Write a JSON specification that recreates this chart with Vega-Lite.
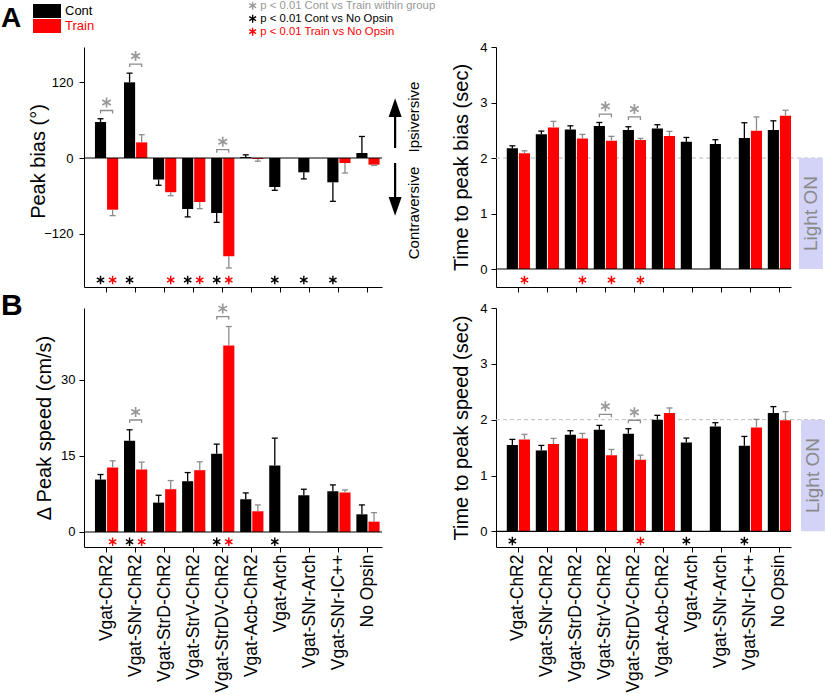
{
 "$schema": "https://vega.github.io/schema/vega-lite/v6.json",
 "padding": {"left": 1, "top": 0, "right": 0, "bottom": 0},
 "background": "white",
 "config": {
  "font": "Liberation Sans",
  "view": {"stroke": null},
  "axis": {"domainColor": "black", "tickColor": "black", "labelColor": "black", "titleColor": "black", "grid": false, "labelFontSize": 13, "titleFontSize": 20, "titleFontWeight": "normal", "tickSize": 5, "domainWidth": 1, "tickWidth": 1, "labelPadding": 4},
  "title": {"color": "black"}
 },
 "datasets": {
  "ab": [
   {"g": "Vgat-ChR2", "c": "Cont", "v": 56.8, "e": 62},
   {"g": "Vgat-ChR2", "c": "Train", "v": -81.6, "e": -91},
   {"g": "Vgat-SNr-ChR2", "c": "Cont", "v": 119.5, "e": 134},
   {"g": "Vgat-SNr-ChR2", "c": "Train", "v": 24.7, "e": 36.8},
   {"g": "Vgat-StrD-ChR2", "c": "Cont", "v": -34, "e": -43},
   {"g": "Vgat-StrD-ChR2", "c": "Train", "v": -54, "e": -59.5},
   {"g": "Vgat-StrV-ChR2", "c": "Cont", "v": -80.5, "e": -93},
   {"g": "Vgat-StrV-ChR2", "c": "Train", "v": -69.5, "e": -80},
   {"g": "Vgat-StrDV-ChR2", "c": "Cont", "v": -86.8, "e": -101.6},
   {"g": "Vgat-StrDV-ChR2", "c": "Train", "v": -155, "e": -173.7},
   {"g": "Vgat-Acb-ChR2", "c": "Cont", "v": 1.5, "e": 5},
   {"g": "Vgat-Acb-ChR2", "c": "Train", "v": -1.5, "e": -5},
   {"g": "Vgat-Arch", "c": "Cont", "v": -45.8, "e": -51},
   {"g": "Vgat-SNr-Arch", "c": "Cont", "v": -22.6, "e": -33},
   {"g": "Vgat-SNr-IC++", "c": "Cont", "v": -38.4, "e": -68.4},
   {"g": "Vgat-SNr-IC++", "c": "Train", "v": -7.9, "e": -23.7},
   {"g": "No Opsin", "c": "Cont", "v": 7.9, "e": 34},
   {"g": "No Opsin", "c": "Train", "v": -10.5, "e": -11.6}
  ],
  "abs": [
   {"g": "Vgat-ChR2", "c": "Cont", "s": "Cont vs No Opsin"},
   {"g": "Vgat-ChR2", "c": "Train", "s": "Train vs No Opsin"},
   {"g": "Vgat-SNr-ChR2", "c": "Cont", "s": "Cont vs No Opsin"},
   {"g": "Vgat-StrD-ChR2", "c": "Train", "s": "Train vs No Opsin"},
   {"g": "Vgat-StrV-ChR2", "c": "Cont", "s": "Cont vs No Opsin"},
   {"g": "Vgat-StrV-ChR2", "c": "Train", "s": "Train vs No Opsin"},
   {"g": "Vgat-StrDV-ChR2", "c": "Cont", "s": "Cont vs No Opsin"},
   {"g": "Vgat-StrDV-ChR2", "c": "Train", "s": "Train vs No Opsin"},
   {"g": "Vgat-Arch", "c": "Cont", "s": "Cont vs No Opsin"},
   {"g": "Vgat-SNr-Arch", "c": "Cont", "s": "Cont vs No Opsin"},
   {"g": "Vgat-SNr-IC++", "c": "Cont", "s": "Cont vs No Opsin"}
  ],
  "abb": [
   {"g": "Vgat-ChR2", "y": 75},
   {"g": "Vgat-SNr-ChR2", "y": 148.4},
   {"g": "Vgat-StrDV-ChR2", "y": 13.2}
  ],
  "at": [
   {"g": "Vgat-ChR2", "c": "Cont", "v": 2.174, "e": 2.22},
   {"g": "Vgat-ChR2", "c": "Train", "v": 2.084, "e": 2.13},
   {"g": "Vgat-SNr-ChR2", "c": "Cont", "v": 2.43, "e": 2.485},
   {"g": "Vgat-SNr-ChR2", "c": "Train", "v": 2.55, "e": 2.66},
   {"g": "Vgat-StrD-ChR2", "c": "Cont", "v": 2.515, "e": 2.58},
   {"g": "Vgat-StrD-ChR2", "c": "Train", "v": 2.353, "e": 2.425},
   {"g": "Vgat-StrV-ChR2", "c": "Cont", "v": 2.575, "e": 2.64},
   {"g": "Vgat-StrV-ChR2", "c": "Train", "v": 2.311, "e": 2.39},
   {"g": "Vgat-StrDV-ChR2", "c": "Cont", "v": 2.503, "e": 2.563},
   {"g": "Vgat-StrDV-ChR2", "c": "Train", "v": 2.323, "e": 2.353},
   {"g": "Vgat-Acb-ChR2", "c": "Cont", "v": 2.533, "e": 2.6},
   {"g": "Vgat-Acb-ChR2", "c": "Train", "v": 2.395, "e": 2.48},
   {"g": "Vgat-Arch", "c": "Cont", "v": 2.293, "e": 2.37},
   {"g": "Vgat-SNr-Arch", "c": "Cont", "v": 2.251, "e": 2.33},
   {"g": "Vgat-SNr-IC++", "c": "Cont", "v": 2.36, "e": 2.635},
   {"g": "Vgat-SNr-IC++", "c": "Train", "v": 2.49, "e": 2.74},
   {"g": "No Opsin", "c": "Cont", "v": 2.503, "e": 2.67},
   {"g": "No Opsin", "c": "Train", "v": 2.76, "e": 2.86}
  ],
  "ats": [
   {"g": "Vgat-ChR2", "c": "Train", "s": "Train vs No Opsin"},
   {"g": "Vgat-StrD-ChR2", "c": "Train", "s": "Train vs No Opsin"},
   {"g": "Vgat-StrV-ChR2", "c": "Train", "s": "Train vs No Opsin"},
   {"g": "Vgat-StrDV-ChR2", "c": "Train", "s": "Train vs No Opsin"}
  ],
  "atb": [
   {"g": "Vgat-StrV-ChR2", "y": 2.79},
   {"g": "Vgat-StrDV-ChR2", "y": 2.74}
  ],
  "bs": [
   {"g": "Vgat-ChR2", "c": "Cont", "v": 10.35, "e": 11.34},
   {"g": "Vgat-ChR2", "c": "Train", "v": 12.72, "e": 14.04},
   {"g": "Vgat-SNr-ChR2", "c": "Cont", "v": 18.0, "e": 20.17},
   {"g": "Vgat-SNr-ChR2", "c": "Train", "v": 12.33, "e": 13.78},
   {"g": "Vgat-StrD-ChR2", "c": "Cont", "v": 5.8, "e": 7.25},
   {"g": "Vgat-StrD-ChR2", "c": "Train", "v": 8.44, "e": 10.15},
   {"g": "Vgat-StrV-ChR2", "c": "Cont", "v": 10.02, "e": 11.73},
   {"g": "Vgat-StrV-ChR2", "c": "Train", "v": 12.2, "e": 13.84},
   {"g": "Vgat-StrDV-ChR2", "c": "Cont", "v": 15.42, "e": 17.34},
   {"g": "Vgat-StrDV-ChR2", "c": "Train", "v": 36.78, "e": 40.54},
   {"g": "Vgat-Acb-ChR2", "c": "Cont", "v": 6.46, "e": 7.71},
   {"g": "Vgat-Acb-ChR2", "c": "Train", "v": 4.09, "e": 5.34},
   {"g": "Vgat-Arch", "c": "Cont", "v": 13.12, "e": 18.52},
   {"g": "Vgat-SNr-Arch", "c": "Cont", "v": 7.25, "e": 8.44},
   {"g": "Vgat-SNr-IC++", "c": "Cont", "v": 8.04, "e": 9.29},
   {"g": "Vgat-SNr-IC++", "c": "Train", "v": 7.78, "e": 8.3},
   {"g": "No Opsin", "c": "Cont", "v": 3.49, "e": 5.34},
   {"g": "No Opsin", "c": "Train", "v": 2.04, "e": 3.82}
  ],
  "bss": [
   {"g": "Vgat-ChR2", "c": "Train", "s": "Train vs No Opsin"},
   {"g": "Vgat-SNr-ChR2", "c": "Cont", "s": "Cont vs No Opsin"},
   {"g": "Vgat-SNr-ChR2", "c": "Train", "s": "Train vs No Opsin"},
   {"g": "Vgat-StrDV-ChR2", "c": "Cont", "s": "Cont vs No Opsin"},
   {"g": "Vgat-StrDV-ChR2", "c": "Train", "s": "Train vs No Opsin"},
   {"g": "Vgat-Arch", "c": "Cont", "s": "Cont vs No Opsin"}
  ],
  "bsb": [
   {"g": "Vgat-SNr-ChR2", "y": 22.1},
   {"g": "Vgat-StrDV-ChR2", "y": 42.5}
  ],
  "bt": [
   {"g": "Vgat-ChR2", "c": "Cont", "v": 1.545, "e": 1.647},
   {"g": "Vgat-ChR2", "c": "Train", "v": 1.647, "e": 1.737},
   {"g": "Vgat-SNr-ChR2", "c": "Cont", "v": 1.449, "e": 1.539},
   {"g": "Vgat-SNr-ChR2", "c": "Train", "v": 1.563, "e": 1.665},
   {"g": "Vgat-StrD-ChR2", "c": "Cont", "v": 1.731, "e": 1.802},
   {"g": "Vgat-StrD-ChR2", "c": "Train", "v": 1.665, "e": 1.754},
   {"g": "Vgat-StrV-ChR2", "c": "Cont", "v": 1.82, "e": 1.898},
   {"g": "Vgat-StrV-ChR2", "c": "Train", "v": 1.365, "e": 1.467},
   {"g": "Vgat-StrDV-ChR2", "c": "Cont", "v": 1.749, "e": 1.838},
   {"g": "Vgat-StrDV-ChR2", "c": "Train", "v": 1.281, "e": 1.365},
   {"g": "Vgat-Acb-ChR2", "c": "Cont", "v": 2.0, "e": 2.078},
   {"g": "Vgat-Acb-ChR2", "c": "Train", "v": 2.12, "e": 2.21},
   {"g": "Vgat-Arch", "c": "Cont", "v": 1.593, "e": 1.671},
   {"g": "Vgat-SNr-Arch", "c": "Cont", "v": 1.88, "e": 1.946},
   {"g": "Vgat-SNr-IC++", "c": "Cont", "v": 1.533, "e": 1.7},
   {"g": "Vgat-SNr-IC++", "c": "Train", "v": 1.862, "e": 2.006},
   {"g": "No Opsin", "c": "Cont", "v": 2.12, "e": 2.234},
   {"g": "No Opsin", "c": "Train", "v": 1.988, "e": 2.144}
  ],
  "bts": [
   {"g": "Vgat-ChR2", "c": "Cont", "s": "Cont vs No Opsin"},
   {"g": "Vgat-StrDV-ChR2", "c": "Train", "s": "Train vs No Opsin"},
   {"g": "Vgat-Arch", "c": "Cont", "s": "Cont vs No Opsin"},
   {"g": "Vgat-SNr-IC++", "c": "Cont", "s": "Cont vs No Opsin"}
  ],
  "btb": [
   {"g": "Vgat-StrV-ChR2", "y": 2.096},
   {"g": "Vgat-StrDV-ChR2", "y": 1.99}
  ]
 },
 "columns": 2,
 "spacing": {"row": 21, "column": 114},
 "bounds": "flush",
 "concat": [
    {
     "width": 298, "height": 240,
     "title": {"text": "A", "anchor": "start", "frame": "group", "fontSize": 28, "fontWeight": "bold", "dx": -83, "dy": -10},
     "resolve": {"scale": {"x": "independent"}, "axis": {"x": "independent"}},
     "layer": [
      {
       "data": {"values": [{}]},
       "layer": [
        {"mark": {"type": "rule", "strokeWidth": 2.2, "color": "black"},
         "encoding": {"x": {"datum": 10.44, "type": "quantitative", "scale": {"domain": [0, 10], "nice": false, "zero": false}, "axis": null},
                      "y": {"datum": 15.8, "type": "quantitative", "scale": {"domain": [-203.7, 175.3], "nice": false, "zero": false}}, "y2": {"datum": 66}}},
        {"mark": {"type": "point", "shape": "M-1,0L1,0L0,-2.9Z", "size": 169, "filled": true, "color": "black", "opacity": 1, "strokeWidth": 0},
         "encoding": {"x": {"datum": 10.44, "type": "quantitative", "scale": {"domain": [0, 10], "nice": false, "zero": false}, "axis": null},
                      "y": {"datum": 64.7, "type": "quantitative", "scale": {"domain": [-203.7, 175.3], "nice": false, "zero": false}}}},
        {"mark": {"type": "rule", "strokeWidth": 2.2, "color": "black"},
         "encoding": {"x": {"datum": 10.44, "type": "quantitative", "scale": {"domain": [0, 10], "nice": false, "zero": false}, "axis": null},
                      "y": {"datum": -7.9, "type": "quantitative", "scale": {"domain": [-203.7, 175.3], "nice": false, "zero": false}}, "y2": {"datum": -63}}},
        {"mark": {"type": "point", "shape": "M-1,0L1,0L0,2.9Z", "size": 169, "filled": true, "color": "black", "opacity": 1, "strokeWidth": 0},
         "encoding": {"x": {"datum": 10.44, "type": "quantitative", "scale": {"domain": [0, 10], "nice": false, "zero": false}, "axis": null},
                      "y": {"datum": -61.6, "type": "quantitative", "scale": {"domain": [-203.7, 175.3], "nice": false, "zero": false}}}},
        {"mark": {"type": "text", "text": "Ipsiversive", "angle": 270, "fontSize": 15, "align": "center", "baseline": "middle", "color": "black"},
         "encoding": {"x": {"datum": 11.07, "type": "quantitative", "scale": {"domain": [0, 10], "nice": false, "zero": false}, "axis": null},
                      "y": {"datum": 64.7, "type": "quantitative", "scale": {"domain": [-203.7, 175.3], "nice": false, "zero": false}}}},
        {"mark": {"type": "text", "text": "Contraversive", "angle": 270, "fontSize": 15, "align": "center", "baseline": "middle", "color": "black"},
         "encoding": {"x": {"datum": 11.07, "type": "quantitative", "scale": {"domain": [0, 10], "nice": false, "zero": false}, "axis": null},
                      "y": {"datum": -86.8, "type": "quantitative", "scale": {"domain": [-203.7, 175.3], "nice": false, "zero": false}}}}
       ]
      },
      {
       "layer": [
        {"data": {"name": "ab"}, "mark": {"type": "bar"},
         "encoding": {
          "x": {"field": "g", "type": "nominal", "scale": {"domain": ["Vgat-ChR2", "Vgat-SNr-ChR2", "Vgat-StrD-ChR2", "Vgat-StrV-ChR2", "Vgat-StrDV-ChR2", "Vgat-Acb-ChR2", "Vgat-Arch", "Vgat-SNr-Arch", "Vgat-SNr-IC++", "No Opsin"], "paddingInner": 0.2, "paddingOuter": 0.23, "align": 0.82}, "axis": {"labels": false, "title": null}},
          "xOffset": {"field": "c", "scale": {"domain": ["Cont", "Train"], "paddingInner": 0.08, "paddingOuter": 0}},
          "y": {"field": "v", "type": "quantitative", "stack": null, "scale": {"domain": [-203.7, 175.3], "nice": false, "zero": false}, "axis": {"values": [-120, 0, 120], "title": "Peak bias (°)", "titleX": -46, "titleY": 114, "titleBaseline": "middle", "labelPadding": 6}},
          "color": {"field": "c", "type": "nominal", "scale": {"domain": ["Cont", "Train"], "range": ["#000000", "#ff0000"]},
                    "legend": {"orient": "none", "legendX": -44, "legendY": -43, "title": null, "symbolType": "M-2,-1L2,-1L2,1L-2,1Z", "symbolSize": 196, "symbolStrokeWidth": 0, "symbolOpacity": 1, "labelFontSize": 13, "labelOffset": 11, "rowPadding": 1, "padding": 0, "labelColor": {"expr": "datum.value == 'Train' ? '#ff0000' : '#000000'"}}}
         }},
        {"data": {"values": [{}]}, "mark": {"type": "rule", "color": "black", "strokeWidth": 1.2},
         "encoding": {"y": {"datum": 0, "type": "quantitative", "scale": {"domain": [-203.7, 175.3], "nice": false, "zero": false}}}},
        {"data": {"name": "ab"}, "mark": {"type": "rule", "strokeWidth": 1.3},
         "encoding": {
          "x": {"field": "g", "type": "nominal", "scale": {"domain": ["Vgat-ChR2", "Vgat-SNr-ChR2", "Vgat-StrD-ChR2", "Vgat-StrV-ChR2", "Vgat-StrDV-ChR2", "Vgat-Acb-ChR2", "Vgat-Arch", "Vgat-SNr-Arch", "Vgat-SNr-IC++", "No Opsin"], "paddingInner": 0.2, "paddingOuter": 0.23, "align": 0.82}},
          "xOffset": {"field": "c", "scale": {"domain": ["Cont", "Train"], "paddingInner": 0.08, "paddingOuter": 0}},
          "y": {"field": "v", "type": "quantitative", "scale": {"domain": [-203.7, 175.3], "nice": false, "zero": false}},
          "y2": {"field": "e"},
          "color": {"condition": {"test": "datum.c == 'Train'", "value": "#8c8c8c"}, "value": "#000000"}
         }},
        {"data": {"name": "ab"}, "mark": {"type": "tick", "size": 6, "thickness": 1.3, "opacity": 1},
         "encoding": {
          "x": {"field": "g", "type": "nominal", "scale": {"domain": ["Vgat-ChR2", "Vgat-SNr-ChR2", "Vgat-StrD-ChR2", "Vgat-StrV-ChR2", "Vgat-StrDV-ChR2", "Vgat-Acb-ChR2", "Vgat-Arch", "Vgat-SNr-Arch", "Vgat-SNr-IC++", "No Opsin"], "paddingInner": 0.2, "paddingOuter": 0.23, "align": 0.82}},
          "xOffset": {"field": "c", "scale": {"domain": ["Cont", "Train"], "paddingInner": 0.08, "paddingOuter": 0}},
          "y": {"field": "e", "type": "quantitative", "scale": {"domain": [-203.7, 175.3], "nice": false, "zero": false}},
          "color": {"condition": {"test": "datum.c == 'Train'", "value": "#8c8c8c"}, "value": "#000000"}
         }},
        {"data": {"name": "abs"}, "mark": {"type": "point", "shape": "M-0.17,-1L0.17,-1L0.17,1L-0.17,1ZM0.781,-0.647L0.951,-0.353L-0.781,0.647L-0.951,0.353ZM-0.951,-0.353L-0.781,-0.647L0.951,0.353L0.781,0.647Z", "filled": true, "size": 72, "strokeWidth": 0, "opacity": 1},
         "encoding": {
          "x": {"field": "g", "type": "nominal", "scale": {"domain": ["Vgat-ChR2", "Vgat-SNr-ChR2", "Vgat-StrD-ChR2", "Vgat-StrV-ChR2", "Vgat-StrDV-ChR2", "Vgat-Acb-ChR2", "Vgat-Arch", "Vgat-SNr-Arch", "Vgat-SNr-IC++", "No Opsin"], "paddingInner": 0.2, "paddingOuter": 0.23, "align": 0.82}},
          "xOffset": {"field": "c", "scale": {"domain": ["Cont", "Train"], "paddingInner": 0.08, "paddingOuter": 0}},
          "y": {"datum": -192.6, "type": "quantitative", "scale": {"domain": [-203.7, 175.3], "nice": false, "zero": false}},
          "fill": {"field": "s", "type": "nominal", "scale": {"domain": ["Cont vs Train within group", "Cont vs No Opsin", "Train vs No Opsin"], "range": ["#999999", "#000000", "#ff0000"]},
                   "legend": {"orient": "none", "legendX": 163, "legendY": -47, "title": null, "symbolType": "M-0.17,-1L0.17,-1L0.17,1L-0.17,1ZM0.781,-0.647L0.951,-0.353L-0.781,0.647L-0.951,0.353ZM-0.951,-0.353L-0.781,-0.647L0.951,0.353L0.781,0.647Z", "symbolSize": 64, "symbolStrokeWidth": 0, "symbolOpacity": 1, "labelFontSize": 11.3, "labelOffset": 2, "rowPadding": 1, "padding": 0, "labelLimit": 0, "labelExpr": "'p < 0.01 ' + datum.label", "labelColor": {"expr": "datum.value == 'Cont vs No Opsin' ? '#000000' : datum.value == 'Train vs No Opsin' ? '#ff0000' : '#999999'"}}}
         }},
        {"data": {"name": "abb"}, "mark": {"type": "point", "shape": "M-1,0.5L-1,0L1,0L1,0.5", "filled": false, "size": 144, "strokeWidth": 1.3, "color": "#8c8c8c", "opacity": 1},
         "encoding": {
          "x": {"field": "g", "type": "nominal", "scale": {"domain": ["Vgat-ChR2", "Vgat-SNr-ChR2", "Vgat-StrD-ChR2", "Vgat-StrV-ChR2", "Vgat-StrDV-ChR2", "Vgat-Acb-ChR2", "Vgat-Arch", "Vgat-SNr-Arch", "Vgat-SNr-IC++", "No Opsin"], "paddingInner": 0.2, "paddingOuter": 0.23, "align": 0.82}},
          "y": {"field": "y", "type": "quantitative", "scale": {"domain": [-203.7, 175.3], "nice": false, "zero": false}}
         }},
        {"data": {"name": "abb"}, "mark": {"type": "point", "shape": "M-0.17,-1L0.17,-1L0.17,1L-0.17,1ZM0.781,-0.647L0.951,-0.353L-0.781,0.647L-0.951,0.353ZM-0.951,-0.353L-0.781,-0.647L0.951,0.353L0.781,0.647Z", "filled": true, "size": 100, "strokeWidth": 0, "opacity": 1, "yOffset": -8},
         "encoding": {
          "x": {"field": "g", "type": "nominal", "scale": {"domain": ["Vgat-ChR2", "Vgat-SNr-ChR2", "Vgat-StrD-ChR2", "Vgat-StrV-ChR2", "Vgat-StrDV-ChR2", "Vgat-Acb-ChR2", "Vgat-Arch", "Vgat-SNr-Arch", "Vgat-SNr-IC++", "No Opsin"], "paddingInner": 0.2, "paddingOuter": 0.23, "align": 0.82}},
          "y": {"field": "y", "type": "quantitative", "scale": {"domain": [-203.7, 175.3], "nice": false, "zero": false}},
          "fill": {"datum": "Cont vs Train within group", "type": "nominal", "scale": {"domain": ["Cont vs Train within group", "Cont vs No Opsin", "Train vs No Opsin"], "range": ["#999999", "#000000", "#ff0000"]}, "legend": null}
         }}
       ]
      }
     ]
    },
    {
     "width": 295, "height": 240,
     "resolve": {"scale": {"x": "independent"}, "axis": {"x": "independent"}},
     "layer": [
      {
       "data": {"values": [{}]},
       "layer": [
        {"mark": {"type": "rule", "strokeWidth": 1, "color": "#bbbbbb", "strokeDash": [4, 3]},
         "encoding": {"x": {"datum": 0, "type": "quantitative", "scale": {"domain": [0, 10], "nice": false, "zero": false}, "axis": null}, "x2": {"datum": 11.08},
                      "y": {"datum": 2, "type": "quantitative", "scale": {"domain": [-0.324, 4], "nice": false, "zero": false}}}},
        {"mark": {"type": "rect", "color": "#d2d3f7"},
         "encoding": {"x": {"datum": 10.27, "type": "quantitative", "scale": {"domain": [0, 10], "nice": false, "zero": false}, "axis": null}, "x2": {"datum": 11.08},
                      "y": {"datum": 0, "type": "quantitative", "scale": {"domain": [-0.324, 4], "nice": false, "zero": false}}, "y2": {"datum": 2}}},
        {"mark": {"type": "text", "text": "Light ON", "angle": 270, "fontSize": 19, "align": "center", "baseline": "middle", "color": "#8a8a8a"},
         "encoding": {"x": {"datum": 10.68, "type": "quantitative", "scale": {"domain": [0, 10], "nice": false, "zero": false}, "axis": null},
                      "y": {"datum": 1, "type": "quantitative", "scale": {"domain": [-0.324, 4], "nice": false, "zero": false}}}}
       ]
      },
      {
       "layer": [
        {"data": {"name": "at"}, "mark": {"type": "bar"},
         "encoding": {
          "x": {"field": "g", "type": "nominal", "scale": {"domain": ["Vgat-ChR2", "Vgat-SNr-ChR2", "Vgat-StrD-ChR2", "Vgat-StrV-ChR2", "Vgat-StrDV-ChR2", "Vgat-Acb-ChR2", "Vgat-Arch", "Vgat-SNr-Arch", "Vgat-SNr-IC++", "No Opsin"], "paddingInner": 0.2, "paddingOuter": 0.186, "align": 1}, "axis": {"labels": false, "title": null}},
          "xOffset": {"field": "c", "scale": {"domain": ["Cont", "Train"], "paddingInner": 0.08, "paddingOuter": 0}},
          "y": {"field": "v", "type": "quantitative", "stack": null, "scale": {"domain": [-0.324, 4], "nice": false, "zero": false}, "axis": {"values": [0, 1, 2, 3, 4], "title": "Time to peak bias (sec)", "titleX": -35, "titleBaseline": "middle"}},
          "color": {"field": "c", "type": "nominal", "scale": {"domain": ["Cont", "Train"], "range": ["#000000", "#ff0000"]}, "legend": null}
         }},
        {"data": {"values": [{}]}, "mark": {"type": "rule", "color": "black", "strokeWidth": 1.2},
         "encoding": {"y": {"datum": 0, "type": "quantitative", "scale": {"domain": [-0.324, 4], "nice": false, "zero": false}}}},
        {"data": {"name": "at"}, "mark": {"type": "rule", "strokeWidth": 1.3},
         "encoding": {
          "x": {"field": "g", "type": "nominal", "scale": {"domain": ["Vgat-ChR2", "Vgat-SNr-ChR2", "Vgat-StrD-ChR2", "Vgat-StrV-ChR2", "Vgat-StrDV-ChR2", "Vgat-Acb-ChR2", "Vgat-Arch", "Vgat-SNr-Arch", "Vgat-SNr-IC++", "No Opsin"], "paddingInner": 0.2, "paddingOuter": 0.186, "align": 1}},
          "xOffset": {"field": "c", "scale": {"domain": ["Cont", "Train"], "paddingInner": 0.08, "paddingOuter": 0}},
          "y": {"field": "v", "type": "quantitative", "scale": {"domain": [-0.324, 4], "nice": false, "zero": false}},
          "y2": {"field": "e"},
          "color": {"condition": {"test": "datum.c == 'Train'", "value": "#8c8c8c"}, "value": "#000000"}
         }},
        {"data": {"name": "at"}, "mark": {"type": "tick", "size": 6, "thickness": 1.3, "opacity": 1},
         "encoding": {
          "x": {"field": "g", "type": "nominal", "scale": {"domain": ["Vgat-ChR2", "Vgat-SNr-ChR2", "Vgat-StrD-ChR2", "Vgat-StrV-ChR2", "Vgat-StrDV-ChR2", "Vgat-Acb-ChR2", "Vgat-Arch", "Vgat-SNr-Arch", "Vgat-SNr-IC++", "No Opsin"], "paddingInner": 0.2, "paddingOuter": 0.186, "align": 1}},
          "xOffset": {"field": "c", "scale": {"domain": ["Cont", "Train"], "paddingInner": 0.08, "paddingOuter": 0}},
          "y": {"field": "e", "type": "quantitative", "scale": {"domain": [-0.324, 4], "nice": false, "zero": false}},
          "color": {"condition": {"test": "datum.c == 'Train'", "value": "#8c8c8c"}, "value": "#000000"}
         }},
        {"data": {"name": "ats"}, "mark": {"type": "point", "shape": "M-0.17,-1L0.17,-1L0.17,1L-0.17,1ZM0.781,-0.647L0.951,-0.353L-0.781,0.647L-0.951,0.353ZM-0.951,-0.353L-0.781,-0.647L0.951,0.353L0.781,0.647Z", "filled": true, "size": 72, "strokeWidth": 0, "opacity": 1},
         "encoding": {
          "x": {"field": "g", "type": "nominal", "scale": {"domain": ["Vgat-ChR2", "Vgat-SNr-ChR2", "Vgat-StrD-ChR2", "Vgat-StrV-ChR2", "Vgat-StrDV-ChR2", "Vgat-Acb-ChR2", "Vgat-Arch", "Vgat-SNr-Arch", "Vgat-SNr-IC++", "No Opsin"], "paddingInner": 0.2, "paddingOuter": 0.186, "align": 1}},
          "xOffset": {"field": "c", "scale": {"domain": ["Cont", "Train"], "paddingInner": 0.08, "paddingOuter": 0}},
          "y": {"datum": -0.198, "type": "quantitative", "scale": {"domain": [-0.324, 4], "nice": false, "zero": false}},
          "fill": {"field": "s", "type": "nominal", "scale": {"domain": ["Cont vs Train within group", "Cont vs No Opsin", "Train vs No Opsin"], "range": ["#999999", "#000000", "#ff0000"]}, "legend": null}
         }},
        {"data": {"name": "atb"}, "mark": {"type": "point", "shape": "M-1,0.5L-1,0L1,0L1,0.5", "filled": false, "size": 144, "strokeWidth": 1.3, "color": "#8c8c8c", "opacity": 1},
         "encoding": {
          "x": {"field": "g", "type": "nominal", "scale": {"domain": ["Vgat-ChR2", "Vgat-SNr-ChR2", "Vgat-StrD-ChR2", "Vgat-StrV-ChR2", "Vgat-StrDV-ChR2", "Vgat-Acb-ChR2", "Vgat-Arch", "Vgat-SNr-Arch", "Vgat-SNr-IC++", "No Opsin"], "paddingInner": 0.2, "paddingOuter": 0.186, "align": 1}},
          "y": {"field": "y", "type": "quantitative", "scale": {"domain": [-0.324, 4], "nice": false, "zero": false}}
         }},
        {"data": {"name": "atb"}, "mark": {"type": "point", "shape": "M-0.17,-1L0.17,-1L0.17,1L-0.17,1ZM0.781,-0.647L0.951,-0.353L-0.781,0.647L-0.951,0.353ZM-0.951,-0.353L-0.781,-0.647L0.951,0.353L0.781,0.647Z", "filled": true, "size": 100, "strokeWidth": 0, "opacity": 1, "yOffset": -8},
         "encoding": {
          "x": {"field": "g", "type": "nominal", "scale": {"domain": ["Vgat-ChR2", "Vgat-SNr-ChR2", "Vgat-StrD-ChR2", "Vgat-StrV-ChR2", "Vgat-StrDV-ChR2", "Vgat-Acb-ChR2", "Vgat-Arch", "Vgat-SNr-Arch", "Vgat-SNr-IC++", "No Opsin"], "paddingInner": 0.2, "paddingOuter": 0.186, "align": 1}},
          "y": {"field": "y", "type": "quantitative", "scale": {"domain": [-0.324, 4], "nice": false, "zero": false}},
          "fill": {"datum": "Cont vs Train within group", "type": "nominal", "scale": {"domain": ["Cont vs Train within group", "Cont vs No Opsin", "Train vs No Opsin"], "range": ["#999999", "#000000", "#ff0000"]}, "legend": null}
         }}
       ]
      }
     ]
    },
    {
     "width": 298, "height": 239,
     "title": {"text": "B", "anchor": "start", "frame": "group", "fontSize": 30, "fontWeight": "bold", "dx": -83, "dy": 21},
     "layer": [
      {"data": {"name": "bs"}, "mark": {"type": "bar"},
       "encoding": {
        "x": {"field": "g", "type": "nominal", "scale": {"domain": ["Vgat-ChR2", "Vgat-SNr-ChR2", "Vgat-StrD-ChR2", "Vgat-StrV-ChR2", "Vgat-StrDV-ChR2", "Vgat-Acb-ChR2", "Vgat-Arch", "Vgat-SNr-Arch", "Vgat-SNr-IC++", "No Opsin"], "paddingInner": 0.2, "paddingOuter": 0.23, "align": 0.82}, "axis": {"title": null, "labelAngle": -90, "labelFontSize": 17.5, "labelPadding": 2, "labelLimit": 0}},
        "xOffset": {"field": "c", "scale": {"domain": ["Cont", "Train"], "paddingInner": 0.08, "paddingOuter": 0}},
        "y": {"field": "v", "type": "quantitative", "stack": null, "scale": {"domain": [-2.96, 44.2], "nice": false, "zero": false}, "axis": {"values": [0, 15, 30], "title": "Δ Peak speed (cm/s)", "titleX": -40, "titleBaseline": "middle"}},
        "color": {"field": "c", "type": "nominal", "scale": {"domain": ["Cont", "Train"], "range": ["#000000", "#ff0000"]}, "legend": null}
       }},
      {"data": {"values": [{}]}, "mark": {"type": "rule", "color": "black", "strokeWidth": 1.2},
       "encoding": {"y": {"datum": 0, "type": "quantitative", "scale": {"domain": [-2.96, 44.2], "nice": false, "zero": false}}}},
      {"data": {"name": "bs"}, "mark": {"type": "rule", "strokeWidth": 1.3},
       "encoding": {
        "x": {"field": "g", "type": "nominal", "scale": {"domain": ["Vgat-ChR2", "Vgat-SNr-ChR2", "Vgat-StrD-ChR2", "Vgat-StrV-ChR2", "Vgat-StrDV-ChR2", "Vgat-Acb-ChR2", "Vgat-Arch", "Vgat-SNr-Arch", "Vgat-SNr-IC++", "No Opsin"], "paddingInner": 0.2, "paddingOuter": 0.23, "align": 0.82}},
        "xOffset": {"field": "c", "scale": {"domain": ["Cont", "Train"], "paddingInner": 0.08, "paddingOuter": 0}},
        "y": {"field": "v", "type": "quantitative", "scale": {"domain": [-2.96, 44.2], "nice": false, "zero": false}},
        "y2": {"field": "e"},
        "color": {"condition": {"test": "datum.c == 'Train'", "value": "#8c8c8c"}, "value": "#000000"}
       }},
      {"data": {"name": "bs"}, "mark": {"type": "tick", "size": 6, "thickness": 1.3, "opacity": 1},
       "encoding": {
        "x": {"field": "g", "type": "nominal", "scale": {"domain": ["Vgat-ChR2", "Vgat-SNr-ChR2", "Vgat-StrD-ChR2", "Vgat-StrV-ChR2", "Vgat-StrDV-ChR2", "Vgat-Acb-ChR2", "Vgat-Arch", "Vgat-SNr-Arch", "Vgat-SNr-IC++", "No Opsin"], "paddingInner": 0.2, "paddingOuter": 0.23, "align": 0.82}},
        "xOffset": {"field": "c", "scale": {"domain": ["Cont", "Train"], "paddingInner": 0.08, "paddingOuter": 0}},
        "y": {"field": "e", "type": "quantitative", "scale": {"domain": [-2.96, 44.2], "nice": false, "zero": false}},
        "color": {"condition": {"test": "datum.c == 'Train'", "value": "#8c8c8c"}, "value": "#000000"}
       }},
      {"data": {"name": "bss"}, "mark": {"type": "point", "shape": "M-0.17,-1L0.17,-1L0.17,1L-0.17,1ZM0.781,-0.647L0.951,-0.353L-0.781,0.647L-0.951,0.353ZM-0.951,-0.353L-0.781,-0.647L0.951,0.353L0.781,0.647Z", "filled": true, "size": 72, "strokeWidth": 0, "opacity": 1},
       "encoding": {
        "x": {"field": "g", "type": "nominal", "scale": {"domain": ["Vgat-ChR2", "Vgat-SNr-ChR2", "Vgat-StrD-ChR2", "Vgat-StrV-ChR2", "Vgat-StrDV-ChR2", "Vgat-Acb-ChR2", "Vgat-Arch", "Vgat-SNr-Arch", "Vgat-SNr-IC++", "No Opsin"], "paddingInner": 0.2, "paddingOuter": 0.23, "align": 0.82}},
        "xOffset": {"field": "c", "scale": {"domain": ["Cont", "Train"], "paddingInner": 0.08, "paddingOuter": 0}},
        "y": {"datum": -1.91, "type": "quantitative", "scale": {"domain": [-2.96, 44.2], "nice": false, "zero": false}},
        "fill": {"field": "s", "type": "nominal", "scale": {"domain": ["Cont vs Train within group", "Cont vs No Opsin", "Train vs No Opsin"], "range": ["#999999", "#000000", "#ff0000"]}, "legend": null}
       }},
      {"data": {"name": "bsb"}, "mark": {"type": "point", "shape": "M-1,0.5L-1,0L1,0L1,0.5", "filled": false, "size": 144, "strokeWidth": 1.3, "color": "#8c8c8c", "opacity": 1},
       "encoding": {
        "x": {"field": "g", "type": "nominal", "scale": {"domain": ["Vgat-ChR2", "Vgat-SNr-ChR2", "Vgat-StrD-ChR2", "Vgat-StrV-ChR2", "Vgat-StrDV-ChR2", "Vgat-Acb-ChR2", "Vgat-Arch", "Vgat-SNr-Arch", "Vgat-SNr-IC++", "No Opsin"], "paddingInner": 0.2, "paddingOuter": 0.23, "align": 0.82}},
        "y": {"field": "y", "type": "quantitative", "scale": {"domain": [-2.96, 44.2], "nice": false, "zero": false}}
       }},
      {"data": {"name": "bsb"}, "mark": {"type": "point", "shape": "M-0.17,-1L0.17,-1L0.17,1L-0.17,1ZM0.781,-0.647L0.951,-0.353L-0.781,0.647L-0.951,0.353ZM-0.951,-0.353L-0.781,-0.647L0.951,0.353L0.781,0.647Z", "filled": true, "size": 100, "strokeWidth": 0, "opacity": 1, "yOffset": -8},
       "encoding": {
        "x": {"field": "g", "type": "nominal", "scale": {"domain": ["Vgat-ChR2", "Vgat-SNr-ChR2", "Vgat-StrD-ChR2", "Vgat-StrV-ChR2", "Vgat-StrDV-ChR2", "Vgat-Acb-ChR2", "Vgat-Arch", "Vgat-SNr-Arch", "Vgat-SNr-IC++", "No Opsin"], "paddingInner": 0.2, "paddingOuter": 0.23, "align": 0.82}},
        "y": {"field": "y", "type": "quantitative", "scale": {"domain": [-2.96, 44.2], "nice": false, "zero": false}},
        "fill": {"datum": "Cont vs Train within group", "type": "nominal", "scale": {"domain": ["Cont vs Train within group", "Cont vs No Opsin", "Train vs No Opsin"], "range": ["#999999", "#000000", "#ff0000"]}, "legend": null}
       }}
     ]
    },
    {
     "width": 295, "height": 239,
     "resolve": {"scale": {"x": "independent"}, "axis": {"x": "independent"}},
     "layer": [
      {
       "data": {"values": [{}]},
       "layer": [
        {"mark": {"type": "rule", "strokeWidth": 1, "color": "#bbbbbb", "strokeDash": [4, 3]},
         "encoding": {"x": {"datum": 0, "type": "quantitative", "scale": {"domain": [0, 10], "nice": false, "zero": false}, "axis": null}, "x2": {"datum": 11.15},
                      "y": {"datum": 2, "type": "quantitative", "scale": {"domain": [-0.28, 4], "nice": false, "zero": false}}}},
        {"mark": {"type": "rect", "color": "#d2d3f7"},
         "encoding": {"x": {"datum": 10.34, "type": "quantitative", "scale": {"domain": [0, 10], "nice": false, "zero": false}, "axis": null}, "x2": {"datum": 11.15},
                      "y": {"datum": 0, "type": "quantitative", "scale": {"domain": [-0.28, 4], "nice": false, "zero": false}}, "y2": {"datum": 2}}},
        {"mark": {"type": "text", "text": "Light ON", "angle": 270, "fontSize": 19, "align": "center", "baseline": "middle", "color": "#8a8a8a"},
         "encoding": {"x": {"datum": 10.75, "type": "quantitative", "scale": {"domain": [0, 10], "nice": false, "zero": false}, "axis": null},
                      "y": {"datum": 1, "type": "quantitative", "scale": {"domain": [-0.28, 4], "nice": false, "zero": false}}}}
       ]
      },
      {
       "layer": [
        {"data": {"name": "bt"}, "mark": {"type": "bar"},
         "encoding": {
          "x": {"field": "g", "type": "nominal", "scale": {"domain": ["Vgat-ChR2", "Vgat-SNr-ChR2", "Vgat-StrD-ChR2", "Vgat-StrV-ChR2", "Vgat-StrDV-ChR2", "Vgat-Acb-ChR2", "Vgat-Arch", "Vgat-SNr-Arch", "Vgat-SNr-IC++", "No Opsin"], "paddingInner": 0.2, "paddingOuter": 0.186, "align": 1}, "axis": {"title": null, "labelAngle": -90, "labelFontSize": 17.5, "labelPadding": 2, "labelLimit": 0}},
          "xOffset": {"field": "c", "scale": {"domain": ["Cont", "Train"], "paddingInner": 0.08, "paddingOuter": 0}},
          "y": {"field": "v", "type": "quantitative", "stack": null, "scale": {"domain": [-0.28, 4], "nice": false, "zero": false}, "axis": {"values": [0, 1, 2, 3, 4], "title": "Time to peak speed (sec)", "titleX": -35, "titleBaseline": "middle"}},
          "color": {"field": "c", "type": "nominal", "scale": {"domain": ["Cont", "Train"], "range": ["#000000", "#ff0000"]}, "legend": null}
         }},
        {"data": {"values": [{}]}, "mark": {"type": "rule", "color": "black", "strokeWidth": 1.2},
         "encoding": {"y": {"datum": 0, "type": "quantitative", "scale": {"domain": [-0.28, 4], "nice": false, "zero": false}}}},
        {"data": {"name": "bt"}, "mark": {"type": "rule", "strokeWidth": 1.3},
         "encoding": {
          "x": {"field": "g", "type": "nominal", "scale": {"domain": ["Vgat-ChR2", "Vgat-SNr-ChR2", "Vgat-StrD-ChR2", "Vgat-StrV-ChR2", "Vgat-StrDV-ChR2", "Vgat-Acb-ChR2", "Vgat-Arch", "Vgat-SNr-Arch", "Vgat-SNr-IC++", "No Opsin"], "paddingInner": 0.2, "paddingOuter": 0.186, "align": 1}},
          "xOffset": {"field": "c", "scale": {"domain": ["Cont", "Train"], "paddingInner": 0.08, "paddingOuter": 0}},
          "y": {"field": "v", "type": "quantitative", "scale": {"domain": [-0.28, 4], "nice": false, "zero": false}},
          "y2": {"field": "e"},
          "color": {"condition": {"test": "datum.c == 'Train'", "value": "#8c8c8c"}, "value": "#000000"}
         }},
        {"data": {"name": "bt"}, "mark": {"type": "tick", "size": 6, "thickness": 1.3, "opacity": 1},
         "encoding": {
          "x": {"field": "g", "type": "nominal", "scale": {"domain": ["Vgat-ChR2", "Vgat-SNr-ChR2", "Vgat-StrD-ChR2", "Vgat-StrV-ChR2", "Vgat-StrDV-ChR2", "Vgat-Acb-ChR2", "Vgat-Arch", "Vgat-SNr-Arch", "Vgat-SNr-IC++", "No Opsin"], "paddingInner": 0.2, "paddingOuter": 0.186, "align": 1}},
          "xOffset": {"field": "c", "scale": {"domain": ["Cont", "Train"], "paddingInner": 0.08, "paddingOuter": 0}},
          "y": {"field": "e", "type": "quantitative", "scale": {"domain": [-0.28, 4], "nice": false, "zero": false}},
          "color": {"condition": {"test": "datum.c == 'Train'", "value": "#8c8c8c"}, "value": "#000000"}
         }},
        {"data": {"name": "bts"}, "mark": {"type": "point", "shape": "M-0.17,-1L0.17,-1L0.17,1L-0.17,1ZM0.781,-0.647L0.951,-0.353L-0.781,0.647L-0.951,0.353ZM-0.951,-0.353L-0.781,-0.647L0.951,0.353L0.781,0.647Z", "filled": true, "size": 72, "strokeWidth": 0, "opacity": 1},
         "encoding": {
          "x": {"field": "g", "type": "nominal", "scale": {"domain": ["Vgat-ChR2", "Vgat-SNr-ChR2", "Vgat-StrD-ChR2", "Vgat-StrV-ChR2", "Vgat-StrDV-ChR2", "Vgat-Acb-ChR2", "Vgat-Arch", "Vgat-SNr-Arch", "Vgat-SNr-IC++", "No Opsin"], "paddingInner": 0.2, "paddingOuter": 0.186, "align": 1}},
          "xOffset": {"field": "c", "scale": {"domain": ["Cont", "Train"], "paddingInner": 0.08, "paddingOuter": 0}},
          "y": {"datum": -0.174, "type": "quantitative", "scale": {"domain": [-0.28, 4], "nice": false, "zero": false}},
          "fill": {"field": "s", "type": "nominal", "scale": {"domain": ["Cont vs Train within group", "Cont vs No Opsin", "Train vs No Opsin"], "range": ["#999999", "#000000", "#ff0000"]}, "legend": null}
         }},
        {"data": {"name": "btb"}, "mark": {"type": "point", "shape": "M-1,0.5L-1,0L1,0L1,0.5", "filled": false, "size": 144, "strokeWidth": 1.3, "color": "#8c8c8c", "opacity": 1},
         "encoding": {
          "x": {"field": "g", "type": "nominal", "scale": {"domain": ["Vgat-ChR2", "Vgat-SNr-ChR2", "Vgat-StrD-ChR2", "Vgat-StrV-ChR2", "Vgat-StrDV-ChR2", "Vgat-Acb-ChR2", "Vgat-Arch", "Vgat-SNr-Arch", "Vgat-SNr-IC++", "No Opsin"], "paddingInner": 0.2, "paddingOuter": 0.186, "align": 1}},
          "y": {"field": "y", "type": "quantitative", "scale": {"domain": [-0.28, 4], "nice": false, "zero": false}}
         }},
        {"data": {"name": "btb"}, "mark": {"type": "point", "shape": "M-0.17,-1L0.17,-1L0.17,1L-0.17,1ZM0.781,-0.647L0.951,-0.353L-0.781,0.647L-0.951,0.353ZM-0.951,-0.353L-0.781,-0.647L0.951,0.353L0.781,0.647Z", "filled": true, "size": 100, "strokeWidth": 0, "opacity": 1, "yOffset": -8},
         "encoding": {
          "x": {"field": "g", "type": "nominal", "scale": {"domain": ["Vgat-ChR2", "Vgat-SNr-ChR2", "Vgat-StrD-ChR2", "Vgat-StrV-ChR2", "Vgat-StrDV-ChR2", "Vgat-Acb-ChR2", "Vgat-Arch", "Vgat-SNr-Arch", "Vgat-SNr-IC++", "No Opsin"], "paddingInner": 0.2, "paddingOuter": 0.186, "align": 1}},
          "y": {"field": "y", "type": "quantitative", "scale": {"domain": [-0.28, 4], "nice": false, "zero": false}},
          "fill": {"datum": "Cont vs Train within group", "type": "nominal", "scale": {"domain": ["Cont vs Train within group", "Cont vs No Opsin", "Train vs No Opsin"], "range": ["#999999", "#000000", "#ff0000"]}, "legend": null}
         }}
       ]
      }
     ]
    }
 ]
}
